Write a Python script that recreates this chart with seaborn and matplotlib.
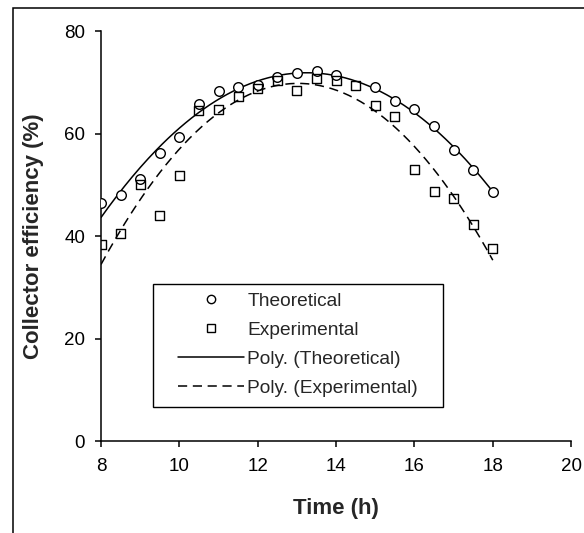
import numpy as np
import pandas as pd
import matplotlib
matplotlib.use("Agg")
import matplotlib.pyplot as plt
import seaborn as sns
from matplotlib.lines import Line2D
from matplotlib.patches import Rectangle

# data
time_theo = [8, 8.5, 9, 9.5, 10, 10.5, 11, 11.5, 12, 12.5, 13, 13.5, 14,
             15, 15.5, 16, 16.5, 17, 17.5, 18]
eff_theo = [46.5, 48.0, 51.2, 56.2, 59.3, 65.8, 68.3, 69.0, 69.4, 71.0, 71.8, 72.2, 71.4,
            69.0, 66.4, 64.7, 61.4, 56.8, 52.9, 48.6]

time_exp = [8, 8.5, 9, 9.5, 10, 10.5, 11, 11.5, 12, 12.5, 13, 13.5, 14,
            14.5, 15, 15.5, 16, 16.5, 17, 17.5, 18]
eff_exp = [38.4, 40.4, 50.1, 44.0, 51.9, 64.4, 64.7, 67.3, 68.8, 70.4, 68.3, 70.8, 70.4,
           69.3, 65.4, 63.3, 52.9, 48.6, 47.3, 42.3, 37.6]

labels = ["Theoretical", "Experimental", "Poly. (Theoretical)", "Poly. (Experimental)"]
x_ticks = [8, 10, 12, 14, 16, 18, 20]
y_ticks = [0, 20, 40, 60, 80]

POLY_ORDER = 2
DASH = (0, (6, 3.7))

sns.set_style("white")
plt.rcParams['font.family'] = ['Liberation Sans', 'DejaVu Sans']

df_theo = pd.DataFrame({'time': time_theo, 'eff': eff_theo})
df_exp = pd.DataFrame({'time': time_exp, 'eff': eff_exp})

# polynomial trend lines (like the spreadsheet "Poly." trend)
xs = np.linspace(8, 18, 200)
fit_theo = pd.DataFrame({'time': xs, 'eff': np.polyval(np.polyfit(time_theo, eff_theo, POLY_ORDER), xs)})
fit_exp = pd.DataFrame({'time': xs, 'eff': np.polyval(np.polyfit(time_exp, eff_exp, POLY_ORDER), xs)})

fig = plt.figure(figsize=(5.84, 5.33), dpi=100)
ax = fig.add_axes([0.173, 0.1726, 0.805, 0.7692])

# outer chart border, cropped at right and bottom
fig.patches.append(Rectangle((12.5 / 584, -0.1), 1.2, 1 - 8.0 / 533 + 0.1,
                             transform=fig.transFigure, fill=False,
                             edgecolor='black', linewidth=1.1))

sns.lineplot(data=fit_theo, x='time', y='eff', ax=ax, color='black', linewidth=1.1)
sns.lineplot(data=fit_exp, x='time', y='eff', ax=ax, color='black', linewidth=1.1,
             linestyle=DASH)
sns.scatterplot(data=df_theo, x='time', y='eff', ax=ax, marker='o', s=48,
                facecolor='white', edgecolor='black', linewidth=1.0, zorder=3)
sns.scatterplot(data=df_exp, x='time', y='eff', ax=ax, marker='s', s=42,
                facecolor='none', edgecolor='black', linewidth=1.0, zorder=3)

ax.set_xlim(8, 20)
ax.set_ylim(0, 80)
ax.set_xticks(x_ticks)
ax.set_yticks(y_ticks)
ax.tick_params(axis='both', direction='out', length=4.5, width=1.1, labelsize=13.5,
               colors='black', left=True, bottom=True)
ax.tick_params(axis='y', pad=7)
ax.tick_params(axis='x', pad=7.5)
for side in ['top', 'right']:
    ax.spines[side].set_visible(False)
for side in ['left', 'bottom']:
    ax.spines[side].set_color('black')
    ax.spines[side].set_linewidth(1.1)
ax.set_clip_on(False)

ax.set_xlabel("Time (h)", fontsize=16, fontweight='bold')
ax.set_ylabel("Collector efficiency (%)", fontsize=16, fontweight='bold')
ax.xaxis.set_label_coords(0.5, -0.14)
ax.yaxis.set_label_coords(-0.122, 0.5)

handles = [
    Line2D([], [], marker='o', linestyle='none', markerfacecolor='white',
           markeredgecolor='black', markersize=6, markeredgewidth=1.0),
    Line2D([], [], marker='s', linestyle='none', markerfacecolor='white',
           markeredgecolor='black', markersize=5.5, markeredgewidth=1.0),
    Line2D([], [], color='black', linewidth=1.1),
    Line2D([], [], color='black', linewidth=1.1, linestyle=DASH),
]
leg = ax.legend(handles, labels, loc='center', bbox_to_anchor=(0.419, 0.235),
                fontsize=13.75, frameon=False,
                handlelength=3.45, handletextpad=0.2, labelspacing=0.6,
                borderpad=0.3, borderaxespad=0)

# legend frame: wider side padding than top/bottom
ax.add_patch(Rectangle((0.1106, 0.0829), 0.617, 0.300, transform=ax.transAxes,
                       fill=False, edgecolor='black', linewidth=1.0, zorder=4))

fig.savefig("out.png", dpi=100, facecolor='white')
